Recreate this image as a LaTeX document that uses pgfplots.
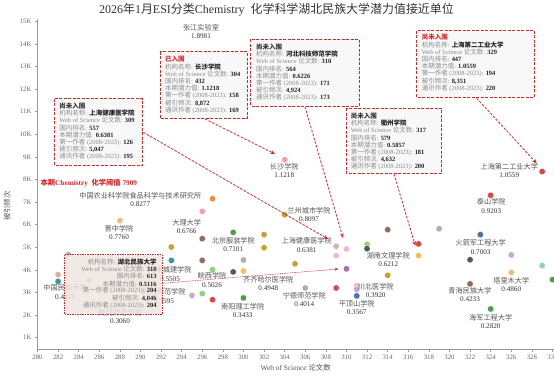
\documentclass[border=0pt]{standalone}
\usepackage{fontspec}
\setmainfont{Liberation Serif}
\newfontfamily\cjk{Noto Sans CJK SC}
\usepackage{pgfplots}
\pgfplotsset{compat=1.18}
\usetikzlibrary{arrows.meta}
% automatic CJK font switching
\XeTeXinterchartokenstate=1
\newXeTeXintercharclass\CJKcls
\newcount\cjkc
\cjkc="4E00
\loop \XeTeXcharclass\cjkc=\CJKcls \advance\cjkc by 1 \ifnum\cjkc<"A000 \repeat
\cjkc="3000
\loop \XeTeXcharclass\cjkc=\CJKcls \advance\cjkc by 1 \ifnum\cjkc<"3040 \repeat
\cjkc="FF00
\loop \XeTeXcharclass\cjkc=\CJKcls \advance\cjkc by 1 \ifnum\cjkc<"FFF0 \repeat
\XeTeXinterchartoks 0 \CJKcls = {\cjk}
\XeTeXinterchartoks 4095 \CJKcls = {\cjk}
\XeTeXinterchartoks \CJKcls 0 = {\rmfamily}
\XeTeXinterchartoks \CJKcls 4095 = {\rmfamily}

\definecolor{cred}{HTML}{D62728}
\definecolor{labc}{HTML}{8C8C8C}
\definecolor{valc}{HTML}{222222}
\definecolor{namec}{HTML}{555555}
\definecolor{numc}{HTML}{333333}
\definecolor{tickc}{HTML}{666666}
\definecolor{spinec}{HTML}{999999}
\definecolor{boxfill}{HTML}{F7F7F7}
\definecolor{box6fill}{HTML}{EFE5E2}
\definecolor{corange}{HTML}{E8913A}
\definecolor{clorange}{HTML}{F6B77A}
\definecolor{cpink}{HTML}{F2A0A0}
\definecolor{cbrown}{HTML}{8C6D5E}
\definecolor{cgold}{HTML}{C9A22E}
\definecolor{cteal}{HTML}{3A9A96}
\definecolor{cgreen}{HTML}{4E9E48}
\definecolor{clgreen}{HTML}{8ED27C}
\definecolor{cgrey}{HTML}{B9ABA6}
\definecolor{cdgrey}{HTML}{5A5656}
\definecolor{cptred}{HTML}{D44A4A}
\definecolor{clpink}{HTML}{F4B6D2}
\definecolor{clpurple}{HTML}{D2A2D2}
\definecolor{cpurple}{HTML}{A373A6}
\definecolor{cblue}{HTML}{4A72A8}
\definecolor{clteal}{HTML}{8FD0C8}
\definecolor{cyellow}{HTML}{F2C14E}
\definecolor{clbrown}{HTML}{D6B2A4}
\definecolor{clanz}{HTML}{C99A3A}

\newcommand{\lab}[4]{\node[font=\fontsize{7.2}{8.4}\selectfont, align=center, inner sep=0pt] at ({#1},{376-#2-4.2}) {\textcolor{namec}{#3}\\\textcolor{numc}{#4}};}
\newcommand{\il}[5]{\node[anchor=west,inner sep=0pt,font=\fontsize{6.5}{7}\selectfont] at ({#1},{376-#2-7.3*#3}) {\textcolor{labc}{#4}\textcolor{valc}{\bfseries #5}};}
\newcommand{\ir}[5]{\node[anchor=east,inner sep=0pt,font=\fontsize{6.5}{7}\selectfont] at ({#1},{376-#2-7.3*#3}) {\textcolor{labc}{#4}\textcolor{valc}{\bfseries #5}};}
\newcommand{\ih}[4]{\node[anchor=west,inner sep=0pt,font=\fontsize{6.5}{7}\selectfont\bfseries, text=#4] at ({#1},{376-#2}) {#3};}
\newcommand{\ibox}[4]{\draw[cred, dash pattern=on 3bp off 1.5bp, line width=0.9bp, fill=boxfill, fill opacity=0.93] ({#1},{376-#2}) rectangle ({#3},{376-#4});}
\newcommand{\arr}[4]{\draw[cred, line width=0.8bp, dash pattern=on 2.5bp off 1.5bp, -{Stealth[length=4.5bp,width=3.8bp]}] ({#1},{376-#2}) -- ({#3},{376-#4});}

\begin{document}
\begin{tikzpicture}
\useasboundingbox (0,0) rectangle (554bp,376bp);
\begin{axis}[
  at={(37.5bp,27bp)}, anchor=south west,
  scale only axis, width=516.5bp, height=330bp,
  xmin=280, xmax=330.15, ymin=500, ymax=15100,
  axis x line*=bottom, axis y line*=left,
  axis line style={draw=spinec, line width=0.9bp},
  xtick={280,282,...,330},
  ytick={1000,2000,3000,4000,5000,6000,7000,8000,9000,10000,11000,12000,13000,14000,15000},
  scaled y ticks=false, scaled x ticks=false,
  yticklabel={\pgfmathparse{int(round(\tick/1000))}\pgfmathresult K},
  tick align=outside, major tick length=2.5bp,
  tick style={draw=spinec, line width=0.7bp},
  ticklabel style={font=\fontsize{6.8}{7}\selectfont, text=tickc},
  /pgf/number format/assume math mode=true,
  /pgf/number format/1000 sep={},
  clip=true,
]
\addplot[cred, line width=1bp, dash pattern=on 4bp off 2bp, forget plot] coordinates {(279,7909) (331,7909)};
\pgfplotsset{every axis plot/.append style={only marks, mark=*, mark size=3.2bp}}
\addplot[mark options={fill=corange, draw=white, line width=0.3bp}] coordinates {(297,7150)};
\addplot[mark options={fill=clorange, draw=white, line width=0.3bp}] coordinates {(288,6180) (326,3890)};
\addplot[mark options={fill=cpink, draw=white, line width=0.3bp}] coordinates {(296,6590) (304,8872)};
\addplot[mark options={fill=cbrown, draw=white, line width=0.3bp}] coordinates {(296,5380) (296,4420) (314,5780) (322,3380)};
\addplot[mark options={fill=cgold, draw=white, line width=0.3bp}] coordinates {(293,5010) (302,5560) (302,4980) (305,4270) (314,3760)};
\addplot[mark options={fill=cteal, draw=white, line width=0.3bp}] coordinates {(293,4420) (282,3490) (296,15130)};
\addplot[mark options={fill=cgreen, draw=white, line width=0.3bp}] coordinates {(299,5660) (300,2760) (330,3570) (324,2270)};
\addplot[mark options={fill=clgreen, draw=white, line width=0.3bp}] coordinates {(312,5130) (297,4010) (296,2950)};
\addplot[mark options={fill=cgrey, draw=white, line width=0.3bp}] coordinates {(300,4440) (319,5820) (306,3200) (283,4670) (285,3540)};
\addplot[mark options={fill=cdgrey, draw=white, line width=0.3bp}] coordinates {(312,4940) (299,3910) (322,4450)};
\addplot[mark options={fill=cptred, draw=white, line width=0.3bp}] coordinates {(324,7300) (317,5150) (329,8351) (297,2680) (309,3200)};
\addplot[mark options={fill=clpink, draw=white, line width=0.3bp}] coordinates {(310,4924) (309,4630) (311,3300)};
\addplot[mark options={fill=clpurple, draw=white, line width=0.3bp}] coordinates {(326,4660) (295,2870) (311,3140)};
\addplot[mark options={fill=cpurple, draw=white, line width=0.3bp}] coordinates {(310,4046)};
\addplot[mark options={fill=cblue, draw=white, line width=0.3bp}] coordinates {(323,5560) (311,2850)};
\addplot[mark options={fill=clteal, draw=white, line width=0.3bp}] coordinates {(329,4190)};
\addplot[mark options={fill=cyellow, draw=white, line width=0.3bp}] coordinates {(317,4632) (300,3950)};
\addplot[mark options={fill=clbrown, draw=white, line width=0.3bp}] coordinates {(309,5047) (282,3790)};
\addplot[mark options={fill=clanz, draw=white, line width=0.3bp}] coordinates {(304,6440)};
\end{axis}
\begin{scope}[x=1bp,y=1bp]
% title and axis labels
\node[font=\fontsize{12}{13}\selectfont, text=numc] at (276.5,366) {2026年1月ESI分类Chemistry\ \ 化学科学湖北民族大学潜力值接近单位};
\node[font=\fontsize{7.4}{8}\selectfont, text=namec] at (295.7,8) {Web of Science 论文数};
\node[font=\fontsize{7.4}{8}\selectfont, text=namec, rotate=90] at (7,170) {被引频次};
% point labels
\lab{201}{27.3}{张江实验室}{1.8981}
\lab{140.3}{195}{中国农业科学院食品科学与技术研究所}{0.8277}
\lab{119}{228.3}{晋中学院}{0.7760}
\lab{186.7}{222.3}{大理大学}{0.6766}
\lab{309}{210.3}{兰州城市学院}{0.8097}
\lab{233.3}{240}{北京服装学院}{0.7101}
\lab{306.7}{240.7}{上海健康医学院}{0.6381}
\lab{388.3}{255.3}{湖南文理学院}{0.6212}
\lab{491.3}{201.7}{泰山学院}{0.9203}
\lab{480.7}{242.7}{火箭军工程大学}{0.7003}
\lab{284.3}{166}{长沙学院}{1.1218}
\lab{509.3}{166}{上海第二工业大学}{1.0559}
\lab{170}{269.7}{湖南城建学院}{0.5505}
\lab{212}{275.7}{皖西学院}{0.5026}
\lab{268.3}{279.3}{齐齐哈尔医学院}{0.4948}
\lab{65}{287.7}{中国民航大学}{0.4418}
\lab{164}{291.7}{韩山师范学院}{0.3595}
\lab{242.7}{306}{南阳理工学院}{0.3433}
\lab{304.3}{295.3}{宁德师范学院}{0.4014}
\lab{356.7}{303.3}{平顶山学院}{0.3567}
\lab{375.7}{286}{川北医学院}{0.3920}
\lab{470}{290.3}{青海民族大学}{0.4233}
\lab{511.3}{280}{塔里木大学}{0.4860}
\lab{490.7}{317}{海军工程大学}{0.2820}
\lab{120}{312}{黄冈师范学院}{0.3060}
% threshold label
\node[anchor=west, fill=white, inner sep=1pt, font=\fontsize{7.3}{8}\selectfont\bfseries, text=cred] at (39.5,193) {本期Chemistry\ \ 化学阈值 7909};
% box 1
\ibox{54.3}{98.7}{142.7}{165}
\ih{59.3}{105.7}{尚未入围}{numc}
\il{59.3}{105.7}{1}{机构名称: }{上海健康医学院}
\il{59.3}{105.7}{2}{Web of Science 论文数: }{309}
\il{59.3}{105.7}{3}{国内排名: }{557}
\il{59.3}{105.7}{4}{本期潜力值: }{0.6381}
\il{59.3}{105.7}{5}{第一作者 (2008-2023): }{126}
\il{59.3}{105.7}{6}{被引频次: }{5,047}
\il{59.3}{105.7}{7}{通讯作者 (2008-2023): }{195}
% box 2
\ibox{160}{51.7}{247.3}{118.3}
\ih{165}{59.3}{已入围}{cred}
\il{165}{59.3}{1}{机构名称: }{长沙学院}
\il{165}{59.3}{2}{Web of Science 论文数: }{304}
\il{165}{59.3}{3}{国内排名: }{432}
\il{165}{59.3}{4}{本期潜力值: }{1.1218}
\il{165}{59.3}{5}{第一作者 (2008-2023): }{158}
\il{165}{59.3}{6}{被引频次: }{8,872}
\il{165}{59.3}{7}{通讯作者 (2008-2023): }{169}
% box 3
\ibox{250.7}{39.3}{359.3}{106}
\ih{256}{46.7}{尚未入围}{numc}
\il{256}{46.7}{1}{机构名称: }{河北科技师范学院}
\il{256}{46.7}{2}{Web of Science 论文数: }{310}
\il{256}{46.7}{3}{国内排名: }{564}
\il{256}{46.7}{4}{本期潜力值: }{0.6226}
\il{256}{46.7}{5}{第一作者 (2008-2023): }{171}
\il{256}{46.7}{6}{被引频次: }{4,924}
\il{256}{46.7}{7}{通讯作者 (2008-2023): }{173}
% box 4
\ibox{416.7}{30.7}{534.3}{97.3}
\ih{421.7}{37.3}{尚未入围}{cred}
\il{421.7}{37.3}{1}{机构名称: }{上海第二工业大学}
\il{421.7}{37.3}{2}{Web of Science 论文数: }{329}
\il{421.7}{37.3}{3}{国内排名: }{447}
\il{421.7}{37.3}{4}{本期潜力值: }{1.0559}
\il{421.7}{37.3}{5}{第一作者 (2008-2023): }{194}
\il{421.7}{37.3}{6}{被引频次: }{8,351}
\il{421.7}{37.3}{7}{通讯作者 (2008-2023): }{220}
% box 5
\ibox{346}{108.3}{441.7}{173.3}
\ih{350.7}{115.7}{尚未入围}{numc}
\il{350.7}{115.7}{1}{机构名称: }{衢州学院}
\il{350.7}{115.7}{2}{Web of Science 论文数: }{317}
\il{350.7}{115.7}{3}{国内排名: }{579}
\il{350.7}{115.7}{4}{本期潜力值: }{0.5857}
\il{350.7}{115.7}{5}{第一作者 (2008-2023): }{181}
\il{350.7}{115.7}{6}{被引频次: }{4,632}
\il{350.7}{115.7}{7}{通讯作者 (2008-2023): }{200}
% arrows
\arr{143.3}{132.3}{328}{239}
\arr{205}{119}{275}{154}
\arr{305}{106.7}{343}{238}
\arr{476.7}{98.3}{536.7}{163.3}
\arr{394}{174}{415.3}{245.7}
% box 6
\draw[cred, dash pattern=on 1.5bp off 1bp, line width=0.6bp, fill=box6fill, fill opacity=0.85] (64.3,{376-254.7}) rectangle (162.3,{376-314});
\ir{156.7}{261.7}{0}{机构名称: }{湖北民族大学}
\ir{156.7}{261.7}{1}{Web of Science 论文数: }{310}
\ir{156.7}{261.7}{2}{国内排名: }{613}
\ir{156.7}{261.7}{3}{本期潜力值: }{0.5116}
\ir{156.7}{261.7}{4}{第一作者 (2008-2023): }{204}
\ir{156.7}{261.7}{5}{被引频次: }{4,046}
\ir{156.7}{261.7}{6}{通讯作者 (2008-2023): }{204}
\draw[cred, line width=0.5bp, dash pattern=on 1.5bp off 1bp, -{Stealth[length=3.5bp,width=3bp]}] (162.3,{376-283.3}) -- (338.3,{376-269});
\end{scope}
\end{tikzpicture}
\end{document}
